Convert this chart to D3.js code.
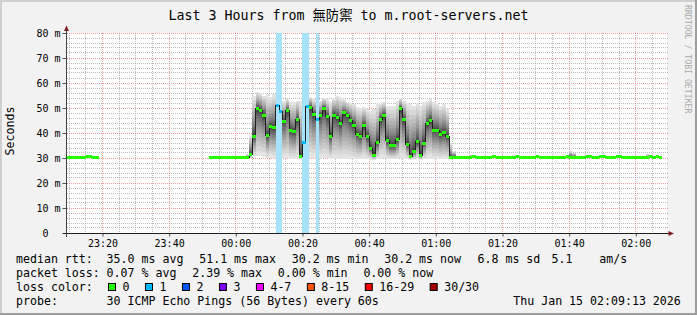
<!DOCTYPE html>
<html>
<head>
<meta charset="utf-8">
<title>smokeping m.root-servers.net</title>
<script src="https://cdn.jsdelivr.net/npm/d3@7/dist/d3.min.js"></script>
<style>
  html, body { margin: 0; padding: 0; background: #f2f2f2; }
  svg { display: block; }
  text { font-family: "DejaVu Sans Mono", "Noto Sans CJK TC", monospace; fill: #000; }
</style>
</head>
<body>
<svg id="chart" width="697" height="315"></svg>
<script>
// ---- data (60 s steps, values in ms) ----
var viewStart = "2026-01-14 23:09:13",
    viewEnd   = "2026-01-15 02:09:13";

// first block of samples, 23:09 .. 23:18
var earlyStart = "2026-01-14 23:09:00";
var medianEarly = [30.2, 30.2, 30.2, 30.2, 30.2, 30.2, 30.6, 30.6, 30.2, 30.2];
var smokeLoEarly = [29.9, 29.9, 29.9, 29.9, 29.9, 29.9, 29.9, 29.9, 29.9, 29.9];
var smokeHiEarly = [30.9, 30.9, 30.9, 30.9, 30.9, 30.9, 31.3, 31.3, 30.9, 30.9];

// second block of samples, 23:52 .. 02:07
var mainStart = "2026-01-14 23:52:00";
var medianMain = [
  30.4, 30.4, 30.4, 30.4, 30.2, 30.2, 30.4, 30.4, 30.2, 30.2, 30.2, 30.4,
  31.5, 38.8, 49.9, 49.2, 47.2, 38.9, 42.5, 42.1, 51.1, 48.5,
  44.8, 49.2, 41.2, 40.5, 45.6, 30.5, 36.1, 50.8, 50.4, 47.6,
  45.5, 47.2, 49.9, 46.8, 38.8, 47.2, 46.3, 43.9, 48.1, 47.2,
  45.2, 43.2, 39.6, 38.8, 42.9, 38.5, 33.9, 31.2, 36.3, 45.6,
  47.2, 36.9, 34.9, 34.9, 37.5, 49.9, 45.5, 35.6, 30.5, 32.8,
  36.5, 31.2, 35.9, 43.9, 45.2, 41.2, 41.2, 39.5, 40.1, 38.8,
  30.2, 30.2, 30.2, 30.2, 30.2, 30.2, 30.2, 30.6,
  30.2, 30.2, 30.2, 30.2, 30.2, 30.6, 30.2, 30.2,
  30.2, 30.2, 30.2, 30.2, 30.6, 30.2, 30.2, 30.2,
  30.2, 30.2, 30.6, 30.2, 30.2, 30.2, 30.2, 30.2,
  30.2, 30.2, 30.2, 30.6, 30.2, 30.2, 30.2, 30.2,
  30.2, 30.6, 30.6, 30.2, 30.2, 30.6, 30.6, 30.2,
  30.2, 30.2, 30.6, 30.6, 30.2, 30.2, 30.2, 30.2,
  30.2, 30.2, 30.2, 30.2, 30.6, 30.2, 30.6, 30.2
];
var smokeLoMain = [
  29.9, 29.9, 29.9, 29.9, 29.9, 29.9, 29.9, 29.9, 29.9, 29.9, 29.9, 29.9,
  30.0, 30.8, 31.0, 31.0, 30.5, 30.0, 30.2, 30.0, 30.5, 30.2,
  30.0, 30.0, 29.8, 29.8, 30.0, 29.6, 30.0, 30.5, 30.2, 30.0,
  30.0, 29.8, 30.0, 30.0, 29.6, 29.8, 30.0, 29.8, 29.8, 29.6,
  29.6, 29.5, 29.5, 29.6, 29.8, 29.5, 29.4, 29.4, 29.6, 29.8,
  30.0, 29.6, 29.5, 29.5, 29.6, 30.0, 29.8, 29.5, 29.4, 29.5,
  29.6, 29.4, 29.5, 29.8, 29.8, 29.6, 29.6, 29.5, 29.6, 29.5,
  29.9, 29.9, 29.9, 29.9, 29.9, 29.9, 29.9, 29.9,
  29.9, 29.9, 29.9, 29.9, 29.9, 29.9, 29.9, 29.9,
  29.9, 29.9, 29.9, 29.9, 29.9, 29.9, 29.9, 29.9,
  29.9, 29.9, 29.9, 29.9, 29.9, 29.9, 29.9, 29.9,
  29.9, 29.9, 29.9, 29.9, 29.9, 29.9, 29.9, 29.9,
  29.9, 29.9, 29.9, 29.9, 29.9, 29.9, 29.9, 29.9,
  29.9, 29.9, 29.9, 29.9, 29.9, 29.9, 29.9, 29.9,
  29.9, 29.9, 29.9, 29.9, 29.9, 29.9, 29.9, 29.9
];
var smokeHiMain = [
  30.9, 30.9, 30.9, 30.9, 30.8, 30.8, 30.9, 30.9, 30.8, 30.8, 30.8, 31.5,
  39.0, 55.0, 56.5, 56.0, 55.0, 55.5, 54.5, 55.5, 54.0, 53.5,
  53.0, 53.5, 52.5, 52.5, 53.0, 53.0, 52.5, 54.5, 54.5, 53.5,
  53.0, 53.0, 54.0, 53.5, 52.5, 54.0, 55.0, 54.5, 53.5, 52.5,
  52.0, 51.5, 50.5, 50.0, 50.5, 49.5, 49.0, 49.5, 51.5, 52.0,
  52.5, 51.0, 51.0, 51.0, 53.0, 54.0, 53.0, 52.0, 51.5, 51.0,
  52.0, 51.0, 52.5, 53.0, 53.5, 52.5, 52.0, 51.0, 51.5, 49.5,
  36.0, 33.0, 30.9, 30.9, 30.9, 30.9, 31.4, 31.3,
  30.9, 30.9, 30.9, 30.9, 30.9, 31.3, 30.9, 30.9,
  30.9, 30.9, 30.9, 31.2, 31.3, 30.9, 30.9, 30.9,
  30.9, 30.9, 31.3, 30.9, 30.9, 30.9, 30.9, 30.9,
  30.9, 30.9, 30.9, 31.3, 33.0, 32.2, 30.9, 30.9,
  30.9, 31.3, 31.3, 30.9, 30.9, 31.3, 31.3, 30.9,
  30.9, 30.9, 31.3, 31.3, 30.9, 30.9, 30.9, 30.9,
  30.9, 30.9, 30.9, 31.6, 31.3, 30.9, 31.3, 30.9
];

// minutes with lost pings (count out of 30)
var lossMinutes = ["00:12", "00:13", "00:20", "00:21", "00:24"];
var lossCounts  = [1, 1, 1, 1, 1];

var xTicks = ["2026-01-14 23:20:00", "2026-01-14 23:40:00", "2026-01-15 00:00:00",
              "2026-01-15 00:20:00", "2026-01-15 00:40:00", "2026-01-15 01:00:00",
              "2026-01-15 01:20:00", "2026-01-15 01:40:00", "2026-01-15 02:00:00"];
var yTicks = [0, 10, 20, 30, 40, 50, 60, 70, 80];

var lossColorLabels = ["0", "1", "2", "3", "4-7", "8-15", "16-29", "30/30"];
var lossColors = ["#26ff00", "#00b8ff", "#0059ff", "#7e00ff", "#ee00ff", "#ff5500", "#ff0000", "#a00000"];
var rttStats  = ["35.0 ms avg", "51.1 ms max", "30.2 ms min", "30.2 ms now", "6.8 ms sd"];
var rttRatio  = ["5.1", "am/s"];
var lossStats = ["0.07 % avg", "2.39 % max", "0.00 % min", "0.00 % now"];
var probeText = "30 ICMP Echo Pings (56 Bytes) every 60s";
var stampText = "Thu Jan 15 02:09:13 2026";
var titleText = "Last 3 Hours from 無防禦 to m.root-servers.net";

// ---- layout ----
var svg = d3.select("#chart"),
    width = +svg.attr("width"),
    height = +svg.attr("height"),
    plot = {left: 67, right: 667, top: 33, bottom: 233},
    cw = 6.98;   // legend char width (monospace)

var parseTime = d3.timeParse("%Y-%m-%d %H:%M:%S"),
    hhmm = d3.timeFormat("%H:%M");

var x = d3.scaleTime()
    .domain([parseTime(viewStart), parseTime(viewEnd)])
    .range([plot.left - 0.5, plot.right - 0.5]);
var y = d3.scaleLinear().domain([0, 80]).range([plot.bottom, plot.top]);

function px(v) { return Math.floor(v) + 0.5; }

var lossByMinute = new Map(lossMinutes.map(function(m, i) { return [m, lossCounts[i]]; }));

function buildSteps(start, med, lo, hi) {
  var t = parseTime(start);
  return med.map(function(m, i) {
    var t0 = d3.timeMinute.offset(t, i);
    return {t0: t0, t1: d3.timeMinute.offset(t, i + 1), med: m, lo: lo[i], hi: hi[i],
            loss: lossByMinute.get(hhmm(t0)) || 0};
  });
}
var segments = [
  buildSteps(earlyStart + "", medianEarly, smokeLoEarly, smokeHiEarly),
  buildSteps(mainStart + "", medianMain, smokeLoMain, smokeHiMain)
];
var steps = segments[0].concat(segments[1]);

// background + rrdtool 3d frame
svg.append("rect").attr("width", width).attr("height", height).attr("fill", "#f2f2f2");
svg.append("rect").attr("x", 0).attr("y", 0).attr("width", width).attr("height", 2).attr("fill", "#cfcfcf");
svg.append("rect").attr("x", 0).attr("y", 0).attr("width", 2).attr("height", height).attr("fill", "#cfcfcf");
svg.append("rect").attr("x", 0).attr("y", height - 2).attr("width", width).attr("height", 2).attr("fill", "#9e9e9e");
svg.append("rect").attr("x", width - 2).attr("y", 0).attr("width", 2).attr("height", height).attr("fill", "#9e9e9e");

svg.append("rect")
    .attr("x", plot.left).attr("y", plot.top)
    .attr("width", plot.right - plot.left).attr("height", plot.bottom - plot.top)
    .attr("fill", "#ffffff");

svg.append("defs").append("clipPath").attr("id", "clip")
  .append("rect")
    .attr("x", plot.left).attr("y", plot.top)
    .attr("width", plot.right - plot.left).attr("height", plot.bottom - plot.top + 1);

// grid
var grid = svg.append("g").attr("shape-rendering", "crispEdges").attr("stroke-dasharray", "1,1");
var minorX = d3.timeMinute.every(5).range(x.domain()[0], x.domain()[1])
    .filter(function(d) { return d.getMinutes() % 20 !== 0; });
var majorX = d3.timeMinute.every(20).range(x.domain()[0], x.domain()[1]);
var minorY = d3.range(2, 81, 2).filter(function(d) { return d % 10 !== 0; });
var majorY = yTicks.filter(function(d) { return d > 0; });

grid.selectAll(".gx").data(minorX).enter().append("line")
    .attr("x1", function(d) { return px(x(d)); }).attr("x2", function(d) { return px(x(d)); })
    .attr("y1", plot.top).attr("y2", plot.bottom)
    .attr("stroke", "rgba(143,143,143,0.6)");
grid.selectAll(".gy").data(minorY).enter().append("line")
    .attr("x1", plot.left).attr("x2", plot.right + 1)
    .attr("y1", function(d) { return px(y(d)); }).attr("y2", function(d) { return px(y(d)); })
    .attr("stroke", "rgba(143,143,143,0.6)");
grid.selectAll(".mx").data(majorX).enter().append("line")
    .attr("x1", function(d) { return px(x(d)); }).attr("x2", function(d) { return px(x(d)); })
    .attr("y1", plot.top).attr("y2", plot.bottom)
    .attr("stroke", "rgba(222,79,79,0.55)");
grid.selectAll(".my").data(majorY).enter().append("line")
    .attr("x1", plot.left).attr("x2", plot.right + 1)
    .attr("y1", function(d) { return px(y(d)); }).attr("y2", function(d) { return px(y(d)); })
    .attr("stroke", "rgba(222,79,79,0.55)");

var g = svg.append("g").attr("clip-path", "url(#clip)");

// smoke: nested bands, lightest outside, darkest at the median
var bands = 15;
var smoke = g.append("g").attr("shape-rendering", "crispEdges");
d3.range(bands).forEach(function(k) {
  var f = Math.pow((bands - k) / bands, 1.6),
      v = Math.round(50 + 190 * (bands - 1 - k) / bands);
  smoke.append("g").attr("fill", d3.rgb(v, v, v))
    .selectAll("rect").data(steps).enter().append("rect")
      .attr("x", function(d) { return x(d.t0); })
      .attr("width", function(d) { return x(d.t1) - x(d.t0); })
      .attr("y", function(d) { return y(d.med + (d.hi - d.med) * f); })
      .attr("height", function(d) { return y(d.med - (d.med - d.lo) * f) - y(d.med + (d.hi - d.med) * f); });
});

// loss background bars
g.append("g").attr("shape-rendering", "crispEdges")
  .selectAll("rect").data(steps.filter(function(d) { return d.loss > 0; })).enter().append("rect")
    .attr("x", function(d) { return x(d.t0); })
    .attr("width", function(d) { return x(d.t1) - x(d.t0); })
    .attr("y", plot.top).attr("height", plot.bottom - plot.top)
    .attr("fill", "#a6e2fa");

// median step line
var line = d3.line().curve(d3.curveStepAfter)
    .x(function(d) { return x(d[0]); })
    .y(function(d) { return y(d[1]); });
segments.forEach(function(seg) {
  var pts = seg.map(function(d) { return [d.t0, d.med]; });
  pts.push([seg[seg.length - 1].t1, seg[seg.length - 1].med]);
  g.append("path").attr("d", line(pts))
      .attr("fill", "none").attr("stroke", "#202020").attr("stroke-width", 1)
      .attr("shape-rendering", "crispEdges");
});

// median blocks coloured by loss
function lossColor(n) {
  if (n <= 3) return lossColors[n];
  if (n <= 7) return lossColors[4];
  if (n <= 15) return lossColors[5];
  if (n <= 29) return lossColors[6];
  return lossColors[7];
}
g.append("g").attr("shape-rendering", "crispEdges")
  .selectAll("rect").data(steps).enter().append("rect")
    .attr("x", function(d) { return x(d.t0); })
    .attr("width", function(d) { return x(d.t1) - x(d.t0); })
    .attr("y", function(d) { return y(d.med) - 1.5; })
    .attr("height", 3)
    .attr("fill", function(d) { return lossColor(d.loss); });

// axes
var xAxis = svg.append("g")
    .attr("transform", "translate(0," + px(plot.bottom) + ")")
    .call(d3.axisBottom(x)
      .tickValues(xTicks.map(parseTime))
      .tickFormat(hhmm)
      .tickSizeInner(3).tickSizeOuter(0).tickPadding(3));
xAxis.select(".domain").remove();
xAxis.selectAll(".tick line").attr("stroke", "#555").attr("transform", "translate(0.06,0)");
xAxis.selectAll("text").attr("font-family", "DejaVu Sans Mono").attr("font-size", 10).attr("fill", "#000");

var yAxis = svg.append("g")
    .attr("transform", "translate(" + (plot.left - 0.5) + ",0)")
    .call(d3.axisLeft(y)
      .tickValues(yTicks)
      .tickFormat(function(d) { return d === 0 ? "0" : d + " m"; })
      .tickSizeInner(4).tickSizeOuter(0).tickPadding(2));
yAxis.select(".domain").remove();
yAxis.selectAll(".tick").attr("transform", function(d) { return "translate(0," + px(y(d)) + ")"; });
yAxis.selectAll(".tick line").attr("stroke", "#555");
yAxis.selectAll("text")
    .attr("font-family", "DejaVu Sans Mono").attr("font-size", 10).attr("fill", "#000")
    .attr("dx", function(d) { return d === 0 ? -12.04 : 0; });

var axisCol = "#1f1f1f", arrowCol = "#801f1f";
svg.append("line")
    .attr("x1", plot.left - 4).attr("x2", plot.right + 2)
    .attr("y1", px(plot.bottom)).attr("y2", px(plot.bottom))
    .attr("stroke", axisCol).attr("shape-rendering", "crispEdges");
svg.append("line")
    .attr("x1", plot.left - 0.5).attr("x2", plot.left - 0.5)
    .attr("y1", plot.bottom + 4).attr("y2", plot.top - 4)
    .attr("stroke", "#444").attr("shape-rendering", "crispEdges");
svg.append("path")
    .attr("d", "M" + (plot.right + 1.5) + "," + (plot.bottom - 2) + "L" + (plot.right + 7) + "," + (plot.bottom + 0.5) +
               "L" + (plot.right + 1.5) + "," + (plot.bottom + 3) + "Z")
    .attr("fill", arrowCol);
svg.append("path")
    .attr("d", "M" + (plot.left - 3) + "," + (plot.top - 2) + "L" + (plot.left - 0.5) + "," + (plot.top - 7.5) +
               "L" + (plot.left + 2) + "," + (plot.top - 2) + "Z")
    .attr("fill", arrowCol);

// title, unit label, watermark
svg.append("text")
    .attr("x", width / 2).attr("y", 20)
    .attr("text-anchor", "middle").attr("font-size", 13.3)
    .text(titleText);
svg.append("text")
    .attr("transform", "translate(13.5,131) rotate(-90)")
    .attr("text-anchor", "middle").attr("font-size", 11.6)
    .text("Seconds");
svg.append("text")
    .attr("transform", "translate(684.5,5) rotate(90)")
    .attr("font-size", 8.2).style("fill", "#aaaaaa")
    .text("RRDTOOL / TOBI OETIKER");

// legend
var legend = svg.append("g").attr("font-size", 11.6);
function legendText(xp, yp, s, anchor) {
  legend.append("text").attr("x", xp).attr("y", yp)
      .attr("text-anchor", anchor || "start").text(s);
}
var rows = [263.3, 277.3, 291.3, 305.3];

legendText(16, rows[0], "median rtt:");
[106.6, 199.2, 291.7, 384.2, 477.5].forEach(function(xp, i) { legendText(xp, rows[0], rttStats[i]); });
legendText(551.5, rows[0], rttRatio[0]);
legendText(599.3, rows[0], rttRatio[1]);

legendText(16, rows[1], "packet loss:");
[106.6, 192.2, 277.8, 363.4].forEach(function(xp, i) { legendText(xp, rows[1], lossStats[i]); });

legendText(16, rows[2], "loss color:");
var bx = 108.5;
lossColorLabels.forEach(function(lbl, i) {
  legend.append("rect")
      .attr("x", bx).attr("y", 283.5).attr("width", 7).attr("height", 7)
      .attr("fill", lossColors[i]).attr("stroke", "#000").attr("stroke-width", 1);
  legendText(bx + 14, rows[2], lbl);
  bx = bx + 14 + lbl.length * cw + 16;
});

legendText(16, rows[3], "probe:");
legendText(106.6, rows[3], probeText);
legendText(680.8, rows[3], stampText, "end");
</script>
</body>
</html>
